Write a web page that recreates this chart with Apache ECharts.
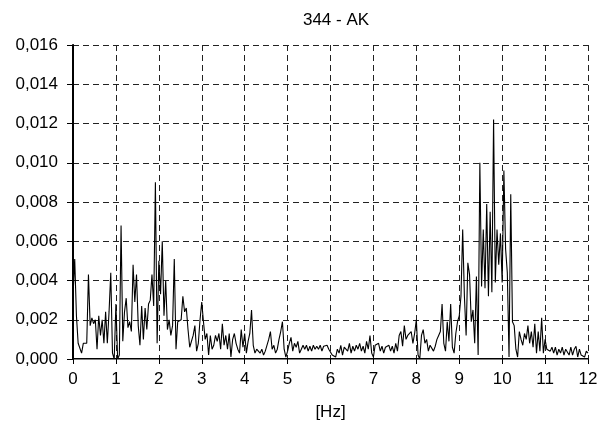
<!DOCTYPE html>
<html>
<head>
<meta charset="utf-8">
<script src="https://cdn.jsdelivr.net/npm/echarts@6/dist/echarts.min.js"></script>
<style>
  html, body { margin: 0; padding: 0; background: #fff; }
  #chart { width: 608px; height: 432px; }
</style>
</head>
<body>
<div id="chart"></div>
<script>
// spectrum sampled every 0.04 Hz from 0 to 12 Hz
let freq_step = 0.04;
let amplitude = [
    0.0032, 0.0051, 0.0022, 0.0008, 0.0007, 0.0003, 0.0008, 0.0009, 0.0008, 0.0043,
    0.0017, 0.0021, 0.0018, 0.0020, 0.0005, 0.0022, 0.0012, 0.0020, 0.0008, 0.0024,
    0.0008, 0.0024, 0.0044, 0.0003, 0.0000, 0.0028, 0.0000, 0.0002, 0.0068, 0.0009,
    0.0024, 0.0031, 0.0016, 0.0019, 0.0014, 0.0048, 0.0029, 0.0043, 0.0017, 0.0007,
    0.0027, 0.0010, 0.0026, 0.0015, 0.0028, 0.0030, 0.0043, 0.0027, 0.0090, 0.0008,
    0.0050, 0.0033, 0.0060, 0.0022, 0.0040, 0.0015, 0.0020, 0.0012, 0.0017, 0.0051,
    0.0005, 0.0019, 0.0018, 0.0020, 0.0032, 0.0024, 0.0026, 0.0015, 0.0006, 0.0005,
    0.0012, 0.0017, 0.0004, 0.0008, 0.0020, 0.0029, 0.0019, 0.0010, 0.0013, 0.0002,
    0.0012, 0.0005, 0.0007, 0.0012, 0.0009, 0.0013, 0.0005, 0.0018, 0.0007, 0.0012,
    0.0005, 0.0013, 0.0001, 0.0010, 0.0013, 0.0008, 0.0005, 0.0003, 0.0015, 0.0006,
    0.0013, 0.0003, 0.0009, 0.0013, 0.0025, 0.0007, 0.0003, 0.0005, 0.0006, 0.0003,
    0.0005, 0.0002, 0.0004, 0.0003, 0.0010, 0.0014, 0.0005, 0.0007, 0.0003, 0.0005,
    0.0010, 0.0014, 0.0019, 0.0005, 0.0001, 0.0004, 0.0008, 0.0011, 0.0004, 0.0008,
    0.0006, 0.0009, 0.0003, 0.0005, 0.0007, 0.0005, 0.0007, 0.0004, 0.00065, 0.0004,
    0.0007, 0.0005, 0.00065, 0.0005, 0.0007, 0.0004, 0.00065, 0.0006, 0.0007, 0.0005,
    0.0006, 0.0002, 0.0003, 0.0001, 0.0005, 0.0003, 0.0007, 0.0002, 0.0006, 0.0007,
    0.0004, 0.0008, 0.0003, 0.00065, 0.0004, 0.0007, 0.0005, 0.0008, 0.0004, 0.00065,
    0.0003, 0.0009, 0.0005, 0.0012, 0.0003, 0.0001, 0.0007, 0.0006, 0.0008, 0.0004,
    0.00065, 0.0003, 0.0006, 0.0005, 0.0007, 0.0004, 0.00065, 0.0003, 0.0008, 0.0004,
    0.0012, 0.0014, 0.00065, 0.0017, 0.0010, 0.0012, 0.0011, 0.0014, 0.0008, 0.0013,
    0.0020, 0.0002, 0.0000, 0.0012, 0.0015, 0.0008, 0.0010, 0.0004, 0.0007, 0.0006,
    0.0004, 0.00065, 0.0010, 0.0012, 0.0014, 0.0028, 0.0008, 0.0004, 0.0019, 0.0009,
    0.0028, 0.0006, 0.0003, 0.0013, 0.0019, 0.0022, 0.0032, 0.0066, 0.0032, 0.0012,
    0.0049, 0.0043, 0.0019, 0.0025, 0.0008, 0.0042, 0.0002, 0.0100, 0.0037, 0.0066,
    0.0036, 0.0079, 0.0032, 0.0075, 0.0034, 0.0122, 0.0039, 0.0066, 0.0048, 0.0064,
    0.0039, 0.0096, 0.0056, 0.0044, 0.0001, 0.0084, 0.0019, 0.0017, 0.0005, 0.0001,
    0.0014, 0.0010, 0.0007, 0.0013, 0.0010, 0.0017, 0.0008, 0.0014, 0.0006, 0.0018,
    0.0003, 0.0014, 0.0004, 0.0021, 0.0003, 0.0010, 0.0005, 0.0006, 0.0004, 0.0006,
    0.0003, 0.0006, 0.0002, 0.0005, 0.0003, 0.0006, 0.0002, 0.0005, 0.0006, 0.0002,
    0.0006, 0.0002, 0.0005, 0.00065, 0.0001, 0.0005, 0.0002, 0.0003, 0.0001, 0.0004,
    0.0003
];
let chart_title = '344 - AK';
let x_name = '[Hz]';

let points = [];
for (let i = 0; i < amplitude.length; i++) {
    points.push([+(i * freq_step).toFixed(2), amplitude[i]]);
}

let font = 'Liberation Sans, Arial, sans-serif';
let grid_line = { show: true, lineStyle: { color: '#222', width: 1, type: [6, 4] } };

let myChart = echarts.init(document.getElementById('chart'));
myChart.setOption({
    animation: false,
    backgroundColor: '#fff',
    title: {
        text: chart_title,
        left: 331,
        textAlign: 'center',
        top: 7,
        textStyle: { fontFamily: font, fontSize: 17, fontWeight: 'normal', color: '#000' }
    },
    grid: { left: 73, right: 20, top: 45, bottom: 73, containLabel: false },
    xAxis: [{
        type: 'value',
        min: 0,
        max: 12,
        interval: 1,
        name: x_name,
        nameLocation: 'middle',
        nameGap: 45,
        nameTextStyle: { fontFamily: font, fontSize: 17, color: '#000' },
        axisLine: { show: true, onZero: false, lineStyle: { color: '#000', width: 2 } },
        axisTick: { show: true, length: 5, lineStyle: { color: '#000', width: 1 } },
        axisLabel: { margin: 12, fontFamily: font, fontSize: 17, color: '#000' },
        splitLine: grid_line
    }, {
        type: 'value',
        position: 'top',
        min: 0,
        max: 12,
        axisLine: { show: true, lineStyle: { color: '#808080', width: 1 } },
        axisTick: { show: false },
        axisLabel: { show: false },
        splitLine: { show: false }
    }],
    yAxis: [{
        type: 'value',
        min: 0,
        max: 0.016,
        interval: 0.002,
        axisLine: { show: true, onZero: false, lineStyle: { color: '#000', width: 2 } },
        axisTick: { show: true, length: 6, lineStyle: { color: '#000', width: 1 } },
        axisLabel: {
            margin: 15,
            fontFamily: font,
            fontSize: 17,
            color: '#000',
            formatter: function (v) { return v.toFixed(3).replace('.', ','); }
        },
        splitLine: grid_line
    }, {
        type: 'value',
        position: 'right',
        min: 0,
        max: 0.016,
        axisLine: { show: true, lineStyle: { color: '#000', width: 1 } },
        axisTick: { show: false },
        axisLabel: { show: false },
        splitLine: { show: false }
    }],
    series: [{
        type: 'line',
        data: points,
        xAxisIndex: 0,
        yAxisIndex: 0,
        showSymbol: false,
        symbol: 'none',
        lineStyle: { color: '#000', width: 1.1 },
        z: 3
    }]
});
</script>
</body>
</html>
